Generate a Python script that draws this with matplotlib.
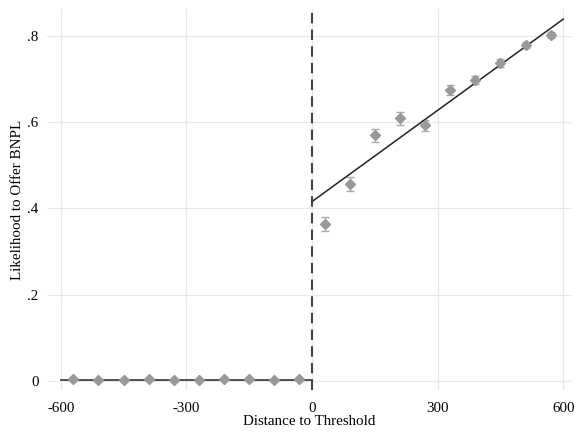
import matplotlib
matplotlib.use("Agg")
import matplotlib.pyplot as plt
import numpy as np

left_x = [-570, -510, -450, -390, -330, -270, -210, -150, -90, -30]
left_y = [0.004, 0.003, 0.002, 0.004, 0.002, 0.003, 0.004, 0.004, 0.003, 0.005]
left_err = [0.002, 0.002, 0.002, 0.002, 0.002, 0.002, 0.002, 0.002, 0.002, 0.002]
right_x = [30, 90, 150, 210, 270, 330, 390, 450, 510, 570]
right_y = [0.364, 0.457, 0.570, 0.609, 0.593, 0.675, 0.698, 0.737, 0.779, 0.802]
right_err = [0.016, 0.016, 0.015, 0.015, 0.013, 0.012, 0.010, 0.009, 0.007, 0.007]
fit_left_x = [-600, 0]
fit_left_y = [0.003, 0.003]
fit_right_x = [0, 600]
fit_right_y = [0.416, 0.839]
xticks = [-600, -300, 0, 300, 600]
yticks = [0, 0.2, 0.4, 0.6, 0.8]
yticklabels = ["0", ".2", ".4", ".6", ".8"]

plt.rcParams['font.family'] = ['Liberation Serif', 'DejaVu Serif']
fig = plt.figure(figsize=(5.74, 4.32), dpi=100)
ax = fig.add_axes([47/574, 1-390/432, (572-47)/574, (390-9)/432])

for s in ax.spines.values():
    s.set_visible(False)
ax.grid(True, color='#e8e8e8', linewidth=0.9)
ax.set_axisbelow(True)

ax.plot(fit_left_x, fit_left_y, color='#222222', linewidth=1.1, zorder=3)
ax.plot(fit_right_x, fit_right_y, color='#222222', linewidth=1.1, zorder=3)

for xs, ys, es in [(left_x, left_y, left_err), (right_x, right_y, right_err)]:
    ax.errorbar(xs, ys, yerr=es, fmt='none', ecolor='#aaaaaa', elinewidth=1.0,
                capsize=3.2, capthick=1.0, zorder=2)
    ax.plot(xs, ys, linestyle='none', marker='D', markersize=5.5, color='#999999',
            markeredgecolor='#999999', zorder=4)

ax.axvline(0, color='#444444', linestyle=(0, (5, 3)), linewidth=1.5, zorder=5)

ax.set_xlim(-633, 621)
ax.set_ylim(-0.021, 0.8626)
ax.set_xticks(xticks)
ax.set_xticklabels([str(v) for v in xticks])
ax.set_yticks(yticks)
ax.set_yticklabels(yticklabels)
ax.tick_params(axis='x', length=0, labelsize=10.8, colors='black', pad=9)
ax.tick_params(axis='y', length=0, labelsize=10.8, colors='black', pad=6)
ax.set_xlabel("Distance to Threshold", fontsize=10.8, va='center')
ax.set_ylabel("Likelihood to Offer BNPL", fontsize=10.8, va='center')
ax.xaxis.set_label_coords((309 - 47) / 525, (390 - 421.5) / 381)
ax.yaxis.set_label_coords((18 - 47) / 525, 0.5)

fig.savefig("out.png", dpi=100)
